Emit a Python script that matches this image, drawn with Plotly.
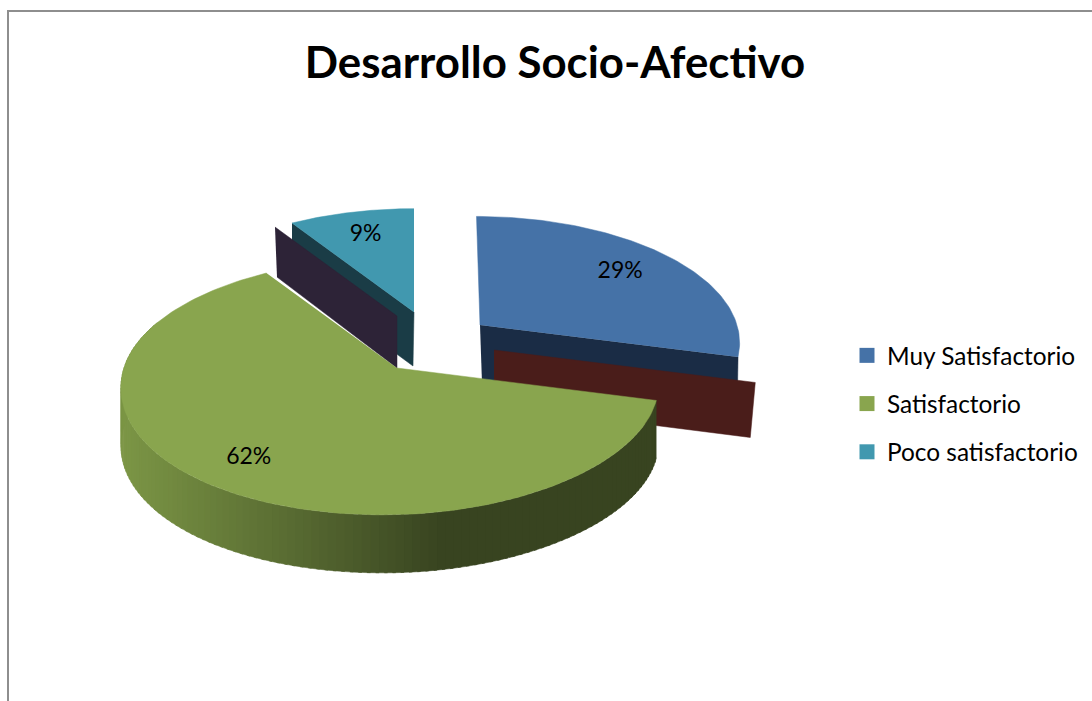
import numpy as np
import plotly.graph_objects as go

title = "Desarrollo Socio-Afectivo"
categories = ["Muy Satisfactorio", "Satisfactorio", "Poco satisfactorio"]
values = [29, 62, 9]
top_colors = ["#4572A7", "#89A54E", "#4198AF"]
wall_colors = ["#1A2C45", "#384420", "#1A3C46"]

# projection of each exploded slice:
# apex x, apex y, rx right, rx left, ry, perspective, shear far, shear near
slice_geom = [
    (480, 325, 257, 257, 124, 0.142, -4, 0),
    (397, 368, 259, 273, 126, 0.142, 0, 12),
    (414, 312, 255, 255, 118, 0.142, 0, 0),
]
label_r = [0.74, 0.80, 0.75]
DEPTH = 58
MAROON = "#4A1D1A"
PURPLE = "#2D2337"
W, H = 1092, 701

frac = np.cumsum([0] + values) / sum(values) * 360.0
spans = list(zip(frac[:-1], frac[1:]))


def proj(t_deg, g, r=1.0):
    cx, cy, rxr, rxl, ry, p, shf, shn = g
    t = np.radians(t_deg)
    st, ct = np.sin(t), np.cos(t)
    s = 1 / (1 + p * r * ct)
    rx = np.where(st >= 0, rxr, rxl)
    sh = np.where(ct >= 0, shf, -shn)
    return (cx + r * (rx * st + sh * ct * ct) * s, cy - r * ry * ct * s)


def arc(t0, t1, g, n=90):
    return proj(np.linspace(t0, t1, n), g)


def lerp_hex(a, b, f):
    ca = [int(a[i:i + 2], 16) for i in (1, 3, 5)]
    cb = [int(b[i:i + 2], 16) for i in (1, 3, 5)]
    return "rgb(%d,%d,%d)" % tuple(round(u + (v - u) * f) for u, v in zip(ca, cb))


def poly(xs, ys, color):
    return go.Scatter(x=list(xs), y=list(ys), mode="lines", fill="toself",
                      fillcolor=color, line=dict(color=color, width=0.5),
                      hoverinfo="skip", showlegend=False)


fig = go.Figure()
g_blue, g_green, g_teal = slice_geom
(b0, b1), (v0, v1), (t0, t1) = spans

# teal slice: wall of the cut edge, then the purple face shifted from it
tx, ty = map(float, proj(t0, g_teal))
fig.add_trace(poly([tx, g_teal[0], g_teal[0] - 1, tx],
                   [ty, g_teal[1], g_teal[1] + 54, ty + 54], wall_colors[2]))
ax, ay = arc(t0, t1, g_teal)
fig.add_trace(poly(np.r_[g_teal[0], ax], np.r_[g_teal[1], ay], top_colors[2]))
ox, oy = -17, 4
fig.add_trace(poly([tx + ox, g_teal[0] + ox, g_teal[0] + ox, tx + ox + 2],
                   [ty + oy, g_teal[1] + oy, g_teal[1] + oy + 52, ty + oy + 50], PURPLE))

# blue slice
ex, ey = map(float, proj(b1, g_blue))
fig.add_trace(poly([g_blue[0], ex, ex - 1, g_blue[0] + 2],
                   [g_blue[1], ey, ey + DEPTH, g_blue[1] + DEPTH], wall_colors[0]))
ax, ay = arc(b0, b1, g_blue)
fig.add_trace(poly(np.r_[g_blue[0], ax], np.r_[g_blue[1], ay], top_colors[0]))

# maroon cut face of the green slice
gx, gy = map(float, proj(v0, g_green))
mx, my = 97, -18
fig.add_trace(poly([g_green[0] + mx, gx + mx + 2, gx + mx - 3, g_green[0] + mx],
                   [g_green[1] + my, gy + my, gy + my + 55, g_green[1] + my + 55], MAROON))

# green curved wall as gradient strips
edges = np.linspace(v0, 292, 121)
for a, b in zip(edges[:-1], edges[1:]):
    xa, ya = proj(np.linspace(a - 0.3, b + 0.3, 4), g_green)
    xm = float(np.mean(xa))
    f = np.clip((xm - 125) / (440 - 125), 0, 1)
    col = lerp_hex("#7B9545", wall_colors[1], float(f))
    fig.add_trace(go.Scatter(x=np.r_[xa, xa[::-1]], y=np.r_[ya, ya[::-1] + DEPTH],
                             mode="lines", fill="toself", fillcolor=col,
                             line=dict(color=col, width=0.5), hoverinfo="skip",
                             showlegend=False))
ax, ay = arc(v0, v1, g_green, 160)
fig.add_trace(poly(np.r_[g_green[0], ax], np.r_[g_green[1], ay], top_colors[1]))

# data labels at the middle of each slice
for v, (a, b), g, r in zip(values, spans, slice_geom, label_r):
    lx, ly = proj((a + b) / 2, g, r)
    fig.add_trace(go.Scatter(x=[float(lx)], y=[float(ly)], mode="text", text=[f"{v}%"],
                             textposition="middle center", hoverinfo="skip",
                             textfont=dict(family="Lato", size=23, color="#000000"),
                             showlegend=False))

# legend entries
for name, c in zip(categories, top_colors):
    fig.add_trace(go.Scatter(x=[None], y=[None], mode="markers", name=name, legendgroup=name,
                             marker=dict(symbol="square", size=15, color=c)))

fig.update_layout(
    width=W, height=H, margin=dict(l=0, r=0, t=0, b=0),
    paper_bgcolor="#FFFFFF", plot_bgcolor="#FFFFFF",
    xaxis=dict(range=[0, W], visible=False, fixedrange=True),
    yaxis=dict(range=[H, 0], visible=False, fixedrange=True),
    title=dict(text=f"<b>{title}</b>", x=555 / W, xanchor="center", y=1 - 63 / H, yanchor="middle",
               font=dict(family="Lato", size=43.8, color="#000000")),
    legend=dict(x=847 / W, y=1 - 333 / H, xanchor="left", yanchor="top", traceorder="grouped",
                tracegroupgap=13.5, itemwidth=30, bgcolor="rgba(0,0,0,0)",
                font=dict(family="Lato", size=24.4, color="#000000")),
    shapes=[dict(type="rect", xref="x", yref="y", x0=8, y0=11, x1=W + 20, y1=H + 20,
                 line=dict(color="#8E8E8E", width=2), layer="above")],
)
fig.write_html("out.html", post_script="document.body.style.margin='0';document.body.style.overflow='hidden';",
               config={"displayModeBar": False})
